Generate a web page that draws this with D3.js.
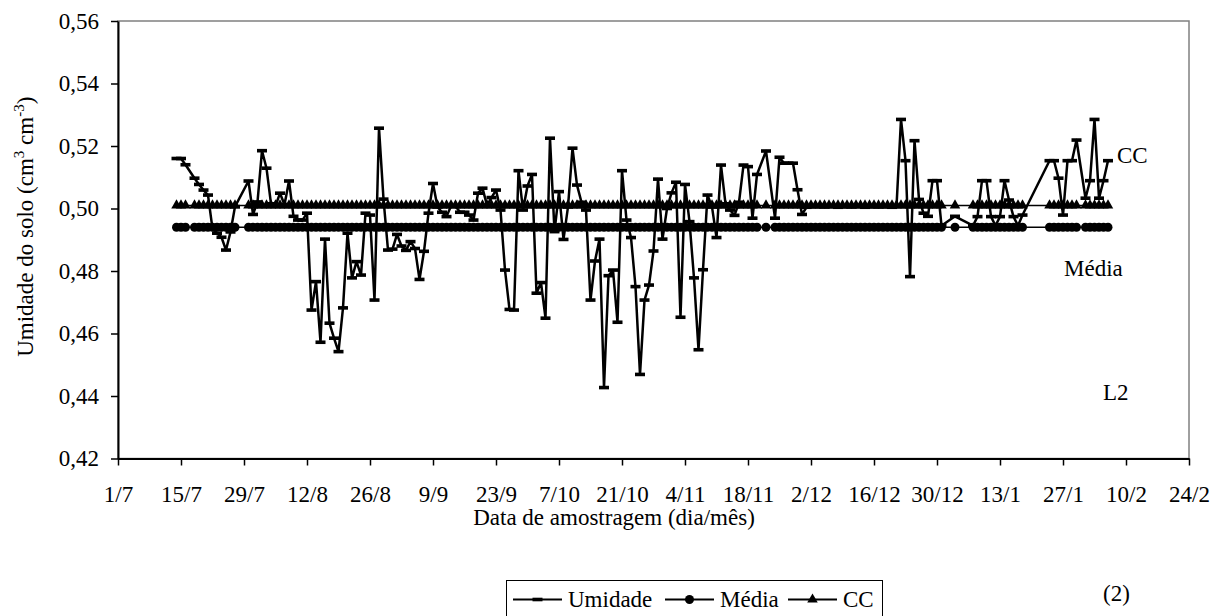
<!DOCTYPE html>
<html>
<head>
<meta charset="utf-8">
<script src="https://cdn.jsdelivr.net/npm/d3@7"></script>
<style>
body { margin: 0; background: #fff; }
svg text { font-family: "Liberation Serif", "Times New Roman", serif; fill: #000; }
</style>
</head>
<body>
<svg id="chart"></svg>
<script>
// x axis tick labels (every 14 days)
const tickLabels = ["1/7", "15/7", "29/7", "12/8", "26/8", "9/9", "23/9", "7/10", "21/10",
  "4/11", "18/11", "2/12", "16/12", "30/12", "13/1", "27/1", "10/2", "24/2"]

const yTicks = [0.42, 0.44, 0.46, 0.48, 0.50, 0.52, 0.54, 0.56]

// sampling dates (dia/mês)
const sampleDates = [
  "14/7", "15/7", "16/7", "18/7", "19/7", "20/7", "21/7", "22/7", "23/7", "24/7", "25/7", "26/7", "27/7", "30/7", "31/7",
  "1/8", "2/8", "3/8", "4/8", "5/8", "6/8", "7/8", "8/8", "9/8", "10/8", "11/8", "12/8", "13/8", "14/8", "15/8", "16/8",
  "17/8", "18/8", "19/8", "20/8", "21/8", "22/8", "23/8", "24/8", "25/8", "26/8", "27/8", "28/8", "29/8", "30/8", "31/8",
  "1/9", "2/9", "3/9", "4/9", "5/9", "6/9", "7/9", "8/9", "9/9", "10/9", "11/9", "12/9", "13/9", "14/9", "15/9",
  "16/9", "17/9", "18/9", "19/9", "20/9", "21/9", "22/9", "23/9", "24/9", "25/9", "26/9", "27/9", "28/9", "29/9", "30/9",
  "1/10", "2/10", "3/10", "4/10", "5/10", "6/10", "7/10", "8/10", "9/10", "10/10", "11/10", "12/10", "13/10", "14/10", "15/10", "16/10",
  "17/10", "18/10", "19/10", "20/10", "21/10", "22/10", "23/10", "24/10", "25/10", "26/10", "27/10", "28/10", "29/10", "30/10", "31/10",
  "1/11", "2/11", "3/11", "4/11", "5/11", "6/11", "7/11", "8/11", "9/11", "10/11", "11/11", "12/11", "13/11", "14/11",
  "15/11", "16/11", "17/11", "18/11", "19/11", "20/11", "22/11", "24/11", "25/11", "26/11", "27/11", "28/11", "29/11", "30/11",
  "1/12", "2/12", "3/12", "4/12", "5/12", "6/12", "7/12", "8/12", "9/12", "10/12", "11/12", "12/12", "13/12", "14/12", "15/12", "16/12",
  "17/12", "18/12", "19/12", "20/12", "21/12", "22/12", "23/12", "24/12", "25/12", "26/12", "27/12", "28/12", "29/12", "30/12", "31/12",
  "3/1", "7/1", "8/1", "9/1", "10/1", "11/1", "12/1", "13/1", "14/1", "15/1", "16/1", "17/1", "18/1",
  "24/1", "25/1", "26/1", "27/1", "28/1", "29/1", "30/1",
  "1/2", "2/2", "3/2", "4/2", "5/2", "6/2"
]

// soil moisture, same order as sampleDates
const umidade = [
  0.516, 0.516, 0.514, 0.5097, 0.5077, 0.5059, 0.5043, 0.4935, 0.4921, 0.4908, 0.4867, 0.4925, 0.5006, 0.5088, 0.4981,
  0.5021, 0.5185, 0.5129, 0.5015, 0.5008, 0.5049, 0.5012, 0.5088, 0.4975, 0.4963, 0.4963, 0.4985, 0.4675, 0.4766, 0.4572, 0.4902,
  0.4633, 0.4585, 0.4542, 0.4682, 0.4921, 0.4778, 0.4830, 0.4787, 0.4985, 0.4979, 0.4707, 0.5257, 0.5030, 0.4867, 0.4870,
  0.4917, 0.4880, 0.4866, 0.4894, 0.4872, 0.4773, 0.4863, 0.4985, 0.5080, 0.5005, 0.4988, 0.4974, 0.5008, 0.5008, 0.4988,
  0.4988, 0.4979, 0.4963, 0.5049, 0.5065, 0.5010, 0.5035, 0.5059, 0.4995, 0.4803, 0.4677, 0.4675, 0.5121, 0.4995, 0.5072,
  0.5109, 0.4729, 0.4763, 0.4649, 0.5225, 0.4926, 0.5054, 0.4901, 0.5005, 0.5193, 0.5075, 0.5020, 0.4995, 0.4707, 0.4832, 0.4902,
  0.4427, 0.4785, 0.4803, 0.4636, 0.5121, 0.4963, 0.4907, 0.4750, 0.4469, 0.4707, 0.4755, 0.4864, 0.5094, 0.4902, 0.5000,
  0.5050, 0.5084, 0.4652, 0.5077, 0.4958, 0.4778, 0.4548, 0.4804, 0.5043, 0.5005, 0.4907, 0.5139, 0.5015, 0.4995,
  0.4978, 0.5020, 0.5139, 0.5134, 0.4969, 0.5109, 0.5184, 0.4969, 0.5164, 0.5145, 0.5145, 0.5145, 0.5060, 0.4981,
  0.5004, 0.5008, 0.5006, 0.5010, 0.5005, 0.5007, 0.5009, 0.5004, 0.5006, 0.5008, 0.5005, 0.5010, 0.5007, 0.5004, 0.5006, 0.5009,
  0.5005, 0.5008, 0.5006, 0.5004, 0.5007, 0.5285, 0.5153, 0.4782, 0.5217, 0.5029, 0.4985, 0.4975, 0.5089, 0.5089, 0.4945,
  0.4975, 0.4945, 0.4974, 0.5089, 0.5089, 0.4974, 0.4945, 0.4974, 0.5089, 0.5027, 0.4974, 0.4945, 0.4979,
  0.5153, 0.5153, 0.5097, 0.4979, 0.5153, 0.5153, 0.5219,
  0.5033, 0.5089, 0.5285, 0.5033, 0.5089, 0.5153
]

const mediaLevel = 0.494 // mean moisture
const ccLevel = 0.501    // field capacity

const seriesNames = ["Umidade", "Média", "CC"]

function parseDate(s) {
  const [d, m] = s.split("/").map(Number)
  return new Date(Date.UTC(m >= 7 ? 2004 : 2005, m - 1, d))
}

function initializeElements() {
const margin = ({top: 21, right: 34, bottom: 157.5, left: 118})
const svgWidth = 1223
const svgHeight = 616
const width = svgWidth - margin.left - margin.right
const height = svgHeight - margin.top - margin.bottom
const fontSize = 23

const svg = d3.select("#chart")
  .attr("width", svgWidth)
  .attr("height", svgHeight)

svg.append("rect")
  .attr("width", svgWidth).attr("height", svgHeight).attr("fill", "#fff")

const data = sampleDates.map((s, i) => ({date: parseDate(s), umidade: umidade[i]}))

const xScale = d3.scaleUtc()
  .domain([parseDate(tickLabels[0]), parseDate(tickLabels[tickLabels.length - 1])])
  .range([0, width])

const yScale = d3.scaleLinear()
  .domain([yTicks[0], yTicks[yTicks.length - 1]])
  .range([height, 0])

const plot = svg.append("g")
  .attr("transform", `translate(${margin.left}, ${margin.top})`)

// plot area border (grey, like the spreadsheet)
plot.append("rect")
  .attr("width", width).attr("height", height)
  .attr("fill", "none").attr("stroke", "#808080").attr("stroke-width", 1.5)

// Umidade series
plot.append("path")
  .datum(data)
  .attr("fill", "none").attr("stroke", "#000").attr("stroke-width", 2.5)
  .attr("stroke-linejoin", "round")
  .attr("d", d3.line().x(d => xScale(d.date)).y(d => yScale(d.umidade)))

plot.append("g").selectAll("rect")
  .data(data)
  .join("rect")
  .attr("x", d => xScale(d.date) - 5)
  .attr("y", d => yScale(d.umidade) - 1.8)
  .attr("width", 10).attr("height", 3.6)
  .attr("fill", "#000")

// Média series
plot.append("path")
  .datum(data)
  .attr("fill", "none").attr("stroke", "#000").attr("stroke-width", 1.5)
  .attr("d", d3.line().x(d => xScale(d.date)).y(() => yScale(mediaLevel)))

plot.append("g").selectAll("circle")
  .data(data)
  .join("circle")
  .attr("cx", d => xScale(d.date))
  .attr("cy", yScale(mediaLevel))
  .attr("r", 4.5)
  .attr("fill", "#000")

// CC series
plot.append("path")
  .datum(data)
  .attr("fill", "none").attr("stroke", "#000").attr("stroke-width", 1.5)
  .attr("d", d3.line().x(d => xScale(d.date)).y(() => yScale(ccLevel)))

const tri = d3.symbol(d3.symbolTriangle, 48)
plot.append("g").selectAll("path")
  .data(data)
  .join("path")
  .attr("transform", d => `translate(${xScale(d.date)}, ${yScale(ccLevel)})`)
  .attr("d", tri)
  .attr("fill", "#000")

// axes
const xAxis = plot.append("g")
  .attr("transform", `translate(0, ${height})`)
  .call(d3.axisBottom(xScale)
    .tickValues(tickLabels.map(parseDate))
    .tickFormat((d, i) => tickLabels[i])
    .tickSize(7).tickSizeOuter(0).tickPadding(20))

const yAxis = plot.append("g")
  .call(d3.axisLeft(yScale)
    .tickValues(yTicks)
    .tickFormat(d => d3.format(".2f")(d).replace(".", ","))
    .tickSize(7).tickSizeOuter(0).tickPadding(12))

;[xAxis, yAxis].forEach(ax => {
  ax.attr("font-family", null).attr("font-size", null)
  ax.selectAll("text").style("font-size", fontSize + "px")
  ax.select(".domain").attr("stroke-width", 2)
  ax.selectAll(".tick line").attr("stroke-width", 1.5)
})

// in-plot labels
const notes = [
  {text: "CC", x: 999, y: 141.7},
  {text: "Média", x: 946, y: 255},
  {text: "L2", x: 985, y: 379}
]
plot.selectAll("text.note")
  .data(notes)
  .join("text")
  .attr("class", "note")
  .attr("x", d => d.x).attr("y", d => d.y)
  .style("font-size", fontSize + "px")
  .text(d => d.text)

// axis titles
svg.append("text")
  .attr("x", 614).attr("y", 525)
  .attr("text-anchor", "middle")
  .style("font-size", fontSize + "px")
  .text("Data de amostragem (dia/mês)")

const yTitle = svg.append("text")
  .attr("transform", `translate(33, ${margin.top + height / 2 - 13}) rotate(-90)`)
  .attr("text-anchor", "middle")
  .style("font-size", fontSize + "px")
yTitle.append("tspan").text("Umidade do solo (cm")
yTitle.append("tspan").attr("dy", -9).style("font-size", "15px").text("3")
yTitle.append("tspan").attr("dy", 9).text(" cm")
yTitle.append("tspan").attr("dy", -9).style("font-size", "15px").text("-3")
yTitle.append("tspan").attr("dy", 9).text(")")

// legend
const legend = svg.append("g")
legend.append("rect")
  .attr("x", 506.5).attr("y", 580.5).attr("width", 376).attr("height", 40)
  .attr("fill", "#fff").attr("stroke", "#000").attr("stroke-width", 1)

const legendX = [513, 665, 788]
const legendY = 599.5
seriesNames.forEach((name, i) => {
  const x0 = legendX[i]
  legend.append("line")
    .attr("x1", x0).attr("x2", x0 + 49).attr("y1", legendY).attr("y2", legendY)
    .attr("stroke", "#000").attr("stroke-width", 2)
  const cx = x0 + 24.5
  if (i === 0) {
    legend.append("rect").attr("x", cx - 5).attr("y", legendY - 1.8)
      .attr("width", 10).attr("height", 3.6).attr("fill", "#000")
  } else if (i === 1) {
    legend.append("circle").attr("cx", cx).attr("cy", legendY).attr("r", 4.5).attr("fill", "#000")
  } else {
    legend.append("path").attr("transform", `translate(${cx}, ${legendY})`).attr("d", tri).attr("fill", "#000")
  }
  legend.append("text")
    .attr("x", x0 + 55).attr("y", 606.5)
    .style("font-size", fontSize + "px")
    .text(name)
})

svg.append("text")
  .attr("x", 1103).attr("y", 601)
  .style("font-size", fontSize + "px")
  .text("(2)")
}

initializeElements();
</script>
</body>
</html>
